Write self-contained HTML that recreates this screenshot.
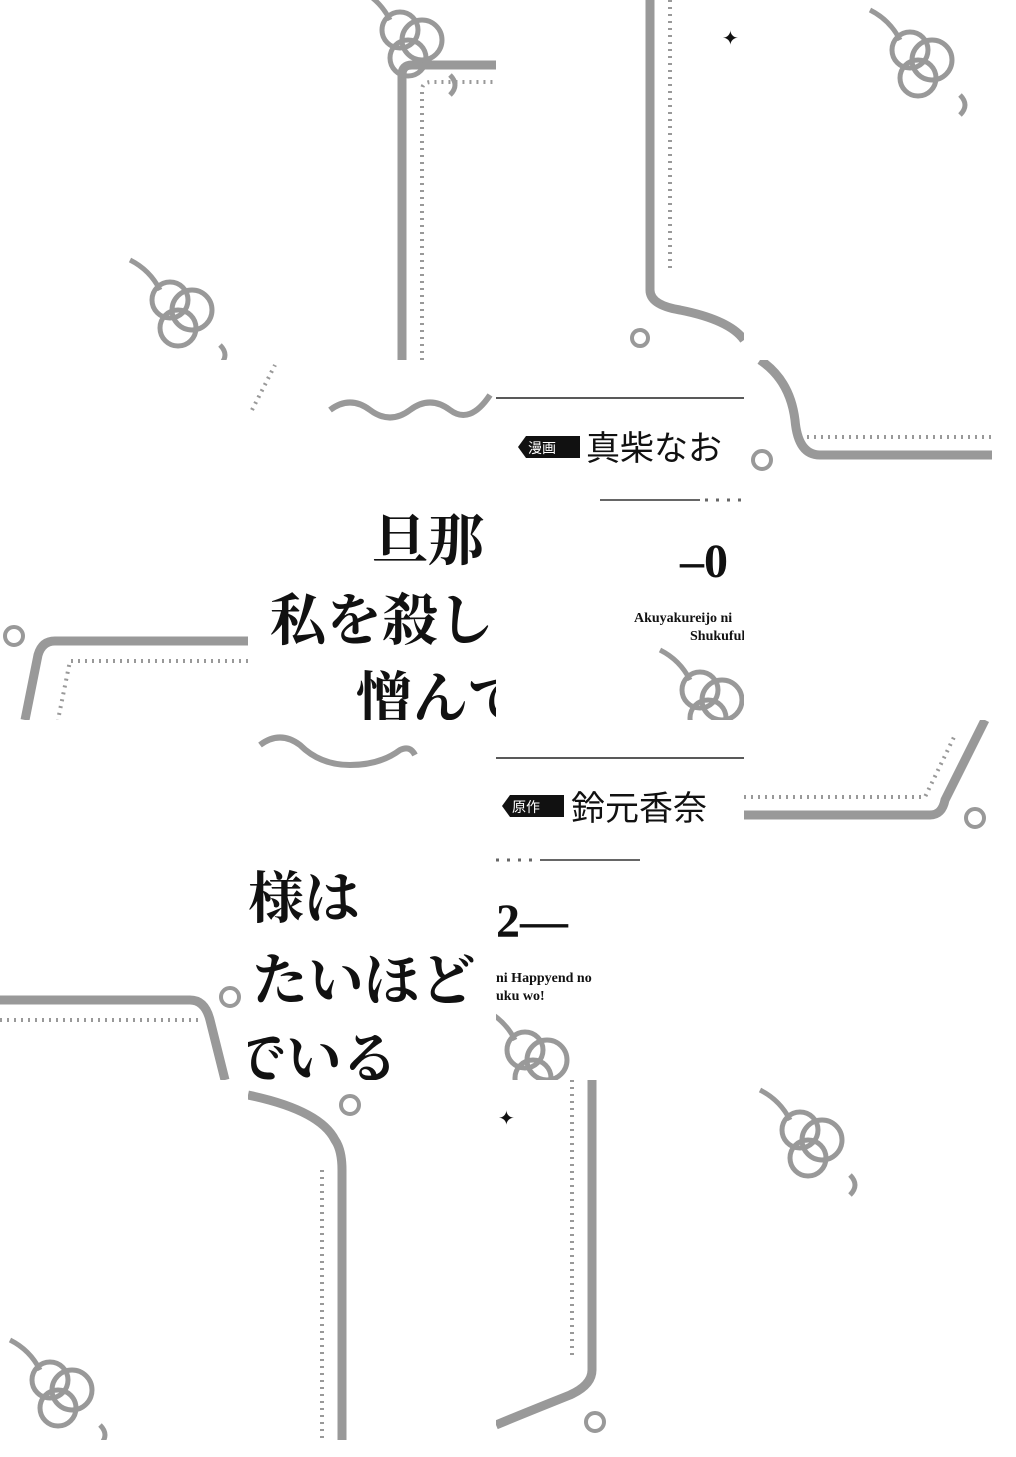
<!DOCTYPE html>
<html><head><meta charset="utf-8">
<style>
html,body{margin:0;padding:0;background:#fff;}
svg{display:block;}
.jp{font-family:"Liberation Serif","Noto Serif CJK SC",serif;font-weight:bold;fill:#111;}
.js{font-family:"Liberation Sans","Noto Sans CJK JP",sans-serif;fill:#111;}
.en{font-family:"Liberation Serif",serif;font-weight:bold;fill:#111;}
</style></head><body>
<svg width="1016" height="1457" viewBox="0 0 1016 1457" xmlns="http://www.w3.org/2000/svg">
<defs>
<g id="orn" fill="none" stroke="#999" stroke-width="5">
<circle cx="0" cy="0" r="18"/><circle cx="22" cy="10" r="20"/><circle cx="8" cy="28" r="18"/>
<path d="M-40 -40 q20 10 30 30"/><path d="M50 45 q10 10 0 20"/>
</g>
<clipPath id="c00"><rect x="0" y="0" width="248" height="360"/></clipPath>
<clipPath id="c01"><rect x="248" y="0" width="248" height="360"/></clipPath>
<clipPath id="c02"><rect x="496" y="0" width="248" height="360"/></clipPath>
<clipPath id="c03"><rect x="744" y="0" width="248" height="360"/></clipPath>
<clipPath id="c10"><rect x="0" y="360" width="248" height="360"/></clipPath>
<clipPath id="c11"><rect x="248" y="360" width="248" height="360"/></clipPath>
<clipPath id="c12"><rect x="496" y="360" width="248" height="360"/></clipPath>
<clipPath id="c13"><rect x="744" y="360" width="248" height="360"/></clipPath>
<clipPath id="c20"><rect x="0" y="720" width="248" height="360"/></clipPath>
<clipPath id="c21"><rect x="248" y="720" width="248" height="360"/></clipPath>
<clipPath id="c22"><rect x="496" y="720" width="248" height="360"/></clipPath>
<clipPath id="c23"><rect x="744" y="720" width="248" height="360"/></clipPath>
<clipPath id="c30"><rect x="0" y="1080" width="248" height="360"/></clipPath>
<clipPath id="c31"><rect x="248" y="1080" width="248" height="360"/></clipPath>
<clipPath id="c32"><rect x="496" y="1080" width="248" height="360"/></clipPath>
<clipPath id="c33"><rect x="744" y="1080" width="248" height="360"/></clipPath>
</defs>
<g fill="none" stroke="#999">
<g clip-path="url(#c01)">
<path d="M402 360 V75 Q402 65 412 65 H496" stroke-width="9"/>
<path d="M422 360 V90 Q422 82 432 82 H496" stroke-width="4" stroke-dasharray="2 5"/>
<use href="#orn" x="400" y="30"/>
</g>
<g clip-path="url(#c02)">
<path d="M650 0 V290 Q650 305 680 310 Q730 320 744 340" stroke-width="9"/>
<path d="M670 0 V270" stroke-width="4" stroke-dasharray="2 5"/>
<circle cx="640" cy="338" r="8" stroke-width="4"/>
</g>
<g clip-path="url(#c03)"><use href="#orn" x="910" y="50"/></g>
<g clip-path="url(#c00)"><use href="#orn" x="170" y="300"/></g>
<g clip-path="url(#c10)">
<path d="M248 641 H55 Q42 641 38 655 L25 720" stroke-width="9"/>
<path d="M248 661 H70 L58 720" stroke-width="4" stroke-dasharray="2 5"/>
<circle cx="14" cy="636" r="9" stroke-width="4"/>
</g>
<g clip-path="url(#c11)">
<path d="M330 410 q20 -15 40 0 q20 15 40 0 q20 -15 40 0 q20 15 40 -15" stroke-width="6"/>
<path d="M252 410 L275 365" stroke-width="4" stroke-dasharray="2 5"/>
</g>
<g clip-path="url(#c13)">
<path d="M760 360 Q790 380 795 420 Q798 455 820 455 H992" stroke-width="9"/>
<path d="M800 437 H992" stroke-width="4" stroke-dasharray="2 5"/>
<circle cx="762" cy="460" r="9" stroke-width="4"/>
</g>
<g clip-path="url(#c12)"><use href="#orn" x="700" y="690"/></g>
<g clip-path="url(#c20)">
<path d="M0 1000 H190 Q205 1000 210 1020 L225 1080" stroke-width="9"/>
<path d="M0 1020 H200" stroke-width="4" stroke-dasharray="2 5"/>
<circle cx="230" cy="997" r="9" stroke-width="4"/>
</g>
<g clip-path="url(#c21)">
<path d="M260 745 q20 -15 40 0 q20 20 50 20 q30 0 50 -15 q10 -5 15 5" stroke-width="6"/>
</g>
<g clip-path="url(#c23)">
<path d="M744 815 H930 Q942 815 945 800 L985 720" stroke-width="9"/>
<path d="M744 797 H925 L955 735" stroke-width="4" stroke-dasharray="2 5"/>
<circle cx="975" cy="818" r="9" stroke-width="4"/>
</g>
<g clip-path="url(#c22)"><use href="#orn" x="525" y="1050"/></g>
<g clip-path="url(#c31)">
<path d="M248 1095 Q320 1110 335 1140 Q342 1150 342 1170 V1440" stroke-width="9"/>
<path d="M322 1170 V1440" stroke-width="4" stroke-dasharray="2 5"/>
<circle cx="350" cy="1105" r="9" stroke-width="4"/>
</g>
<g clip-path="url(#c32)">
<path d="M592 1080 V1370 Q592 1385 570 1395 Q520 1415 496 1425" stroke-width="9"/>
<path d="M572 1080 V1360" stroke-width="4" stroke-dasharray="2 5"/>
<circle cx="595" cy="1422" r="9" stroke-width="4"/>
</g>
<g clip-path="url(#c33)"><use href="#orn" x="800" y="1130"/></g>
<g clip-path="url(#c30)"><use href="#orn" x="50" y="1380"/></g>
</g>
<line x1="496" y1="398" x2="744" y2="398" stroke="#222" stroke-width="1.5"/>
<line x1="496" y1="758" x2="744" y2="758" stroke="#222" stroke-width="1.5"/>
<line x1="600" y1="500" x2="700" y2="500" stroke="#666" stroke-width="2"/>
<line x1="705" y1="500" x2="744" y2="500" stroke="#666" stroke-width="3" stroke-dasharray="3 8"/>
<line x1="540" y1="860" x2="640" y2="860" stroke="#666" stroke-width="2"/>
<line x1="496" y1="860" x2="540" y2="860" stroke="#666" stroke-width="3" stroke-dasharray="3 8"/>
<text x="722" y="45" font-size="20" fill="#111">✦</text>
<text x="498" y="1125" font-size="20" fill="#111">✦</text>
<g clip-path="url(#c11)">
<text class="jp" x="372" y="560" font-size="56">旦那</text>
<text class="jp" x="270" y="640" font-size="56">私を殺しし</text>
<text class="jp" x="356" y="718" font-size="56">憎んで</text>
</g>
<g clip-path="url(#c21)">
<text class="jp" x="248" y="918" font-size="56">様は</text>
<text class="jp" x="252" y="1000" font-size="56">たいほど</text>
<text class="jp" x="230" y="1078" font-size="56">でいる</text>
</g>
<polygon points="518,447 526,436 580,436 580,458 526,458" fill="#111"/>
<text class="js" x="528" y="453" font-size="14" style="fill:#fff">漫画</text>
<text class="js" x="586" y="460" font-size="34">真柴なお</text>
<polygon points="502,806 510,795 564,795 564,817 510,817" fill="#111"/>
<text class="js" x="512" y="812" font-size="14" style="fill:#fff">原作</text>
<text class="js" x="571" y="820" font-size="34">鈴元香奈</text>
<g clip-path="url(#c12)">
<text class="en" x="680" y="577" font-size="48">–0</text>
<text class="en" x="634" y="622" font-size="14">Akuyakureijo ni</text>
<text class="en" x="690" y="640" font-size="14">Shukufuku</text>
</g>
<g clip-path="url(#c22)">
<text class="en" x="496" y="937" font-size="48">2—</text>
<text class="en" x="496" y="982" font-size="14">ni Happyend no</text>
<text class="en" x="496" y="1000" font-size="14">uku wo!</text>
</g>
</svg>
</body></html>
